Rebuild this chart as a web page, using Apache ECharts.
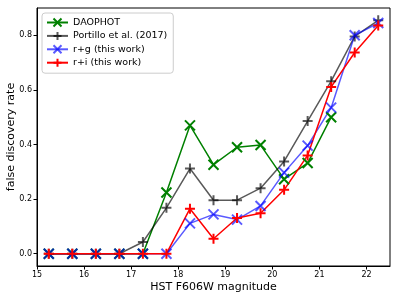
<!DOCTYPE html>
<html><head><meta charset="utf-8">
<script src="https://cdn.jsdelivr.net/npm/echarts@6/dist/echarts.min.js"></script>
<style>html,body{margin:0;padding:0;background:#fff}#c{width:399px;height:299px}</style>
</head><body><div id="c"></div>
<script>
const magnitudes = [15.25,15.75,16.25,16.75,17.25,17.75,18.25,18.75,19.25,19.75,20.25,20.75,21.25,21.75,22.25];
const daophot = [0,0,0,0,0,0.224,0.470,0.326,0.390,0.398,0.273,0.332,0.500,null,null];
const portillo = [0,0,0,0,0.043,0.168,0.312,0.196,0.196,0.240,0.338,0.486,0.632,0.796,0.855];
const rg = [0,0,0,0,0,0,0.111,0.144,0.125,0.175,0.297,0.396,0.535,0.800,0.845];
const ri = [0,0,0,0,0,0,0.165,0.055,0.131,0.148,0.234,0.360,0.611,0.737,0.836];
const xTicks = [15,16,17,18,19,20,21,22];
const yTicks = [0,0.2,0.4,0.6,0.8];
const names = ['DAOPHOT','Portillo et al. (2017)','r+g (this work)','r+i (this work)'];

const X_PATH = 'path://M0,0L10,10M10,0L0,10';
const P_PATH = 'path://M5,0L5,10M0,5L10,5';

function mk(name, vals, color, opacity, sym){
  return {
    name, type:'line', data: magnitudes.map((m,i)=>vals[i]==null?null:[m,vals[i]]),
    symbol: sym, symbolSize: 10, showSymbol: true,
    lineStyle:{color, width:1.5, opacity},
    itemStyle:{color:'none', borderColor: color, borderWidth: 2, opacity},
    emphasis:{disabled:true}, animation:false, connectNulls:false
  };
}

const chart = echarts.init(document.getElementById('c'), null, {renderer:'canvas'});
chart.setOption({
  animation:false,
  grid:{left:37, right:9, top:8, bottom:33, outerBoundsMode:'none', containLabel:false,
    show:true, borderColor:'#000', borderWidth:1, backgroundColor:'transparent'},
  xAxis:{type:'value', min:15, max:22.5, interval:1,
    name:'HST F606W magnitude', nameLocation:'middle', nameGap:15.5, nameMoveOverlap:false,
    nameTextStyle:{fontFamily:'DejaVu Sans', fontSize:11, color:'#000'},
    axisLine:{show:true, onZero:false, lineStyle:{color:'#000', width:1}},
    axisTick:{show:true, length:3.5, lineStyle:{color:'#000'}, customValues:xTicks},
    axisLabel:{fontFamily:'DejaVu Sans', fontSize:8, color:'#000', margin:5, customValues:xTicks},
    splitLine:{show:false}},
  yAxis:{type:'value', min:-0.045, max:0.9,
    name:'false discovery rate', nameLocation:'middle', nameGap:20, nameRotate:90, nameMoveOverlap:false,
    nameTextStyle:{fontFamily:'DejaVu Sans', fontSize:11, color:'#000'},
    axisLine:{show:true, onZero:false, lineStyle:{color:'#000', width:1}},
    axisTick:{show:true, length:3.5, lineStyle:{color:'#000'}, customValues:yTicks},
    axisLabel:{fontFamily:'DejaVu Sans', fontSize:8, color:'#000', margin:5, customValues:yTicks,
      formatter:v=>v.toFixed(1)},
    splitLine:{show:false}},
  legend:{show:true, orient:'vertical', left:42, top:13, data:names,
    itemWidth:21, itemHeight:10, itemGap:0.4, padding:[3,6,4,4],
    backgroundColor:'rgba(255,255,255,0.8)', borderColor:'#ccc', borderWidth:1, borderRadius:3,
    textStyle:{fontFamily:'DejaVu Sans', fontSize:9.5, color:'#000', lineHeight:10}},
  series:[
    mk(names[0], daophot, '#008000', 1, X_PATH),
    mk(names[1], portillo, '#000000', 0.65, P_PATH),
    mk(names[2], rg, '#0000ff', 0.65, X_PATH),
    mk(names[3], ri, '#ff0000', 1, P_PATH)
  ]
});
</script></body></html>
